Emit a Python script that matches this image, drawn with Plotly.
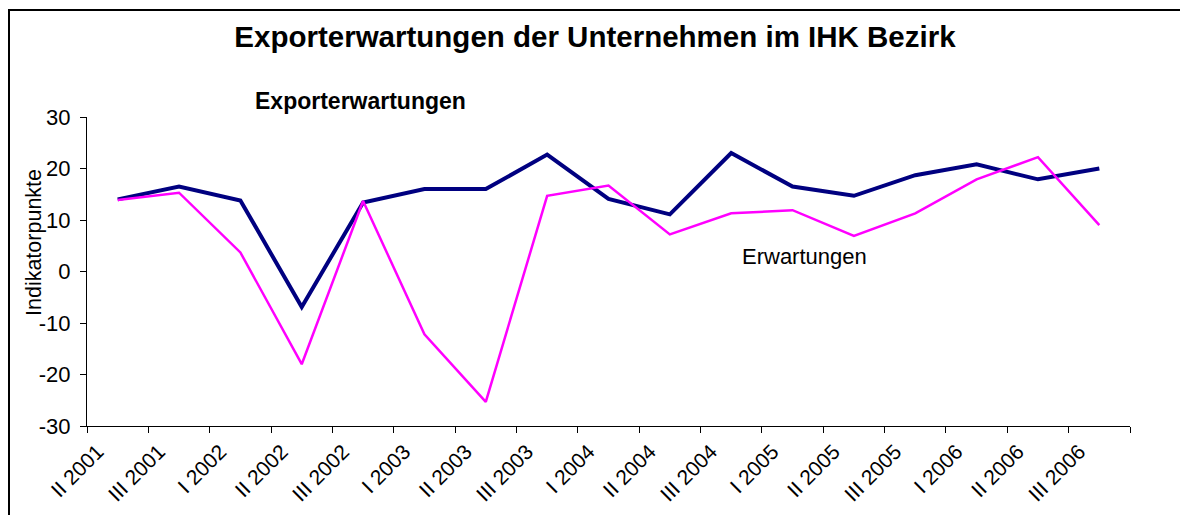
import plotly.graph_objects as go

categories = ["II 2001", "III 2001", "I 2002", "II 2002", "III 2002", "I 2003", "II 2003",
              "III 2003", "I 2004", "II 2004", "III 2004", "I 2005", "II 2005", "III 2005",
              "I 2006", "II 2006", "III 2006"]
export_expect = [14.0, 16.5, 13.8, -6.9, 13.4, 16.0, 16.0, 22.7, 14.1, 11.1, 23.0, 16.5,
                 14.7, 18.7, 20.8, 17.9, 20.0]
expectations = [13.9, 15.3, 3.7, -18.0, 13.7, -12.2, -25.3, 14.7, 16.7, 7.2, 11.3, 11.9,
                6.9, 11.3, 17.9, 22.2, 9.0]
y_ticks = [-30, -20, -10, 0, 10, 20, 30]
y_tick_labels = ["-30", "-20", "-10", "0", "10", "20", "30"]

FONT = "Liberation Sans, Arial, sans-serif"
L, R, T, B = 87, 50, 117, 89
W, H = 1180, 515
PW, PH = W - L - R, H - T - B

fig = go.Figure()
fig.add_trace(go.Scatter(x=categories, y=export_expect, mode="lines",
                         line=dict(color="#000080", width=4), name="Exporterwartungen"))
fig.add_trace(go.Scatter(x=categories, y=expectations, mode="lines",
                         line=dict(color="#FF00FF", width=2.5), name="Erwartungen"))

fig.update_layout(
    width=W, height=H,
    margin=dict(l=L, r=R, t=T, b=B, autoexpand=False),
    paper_bgcolor="white", plot_bgcolor="white",
    showlegend=False,
    font=dict(family=FONT, color="black", size=21),
    title=dict(text="<b>Exporterwartungen der Unternehmen im IHK Bezirk</b>",
               x=595 / W, xref="container", xanchor="center", y=1 - 37 / H, yanchor="middle",
               font=dict(size=29.5, family=FONT, color="black")),
)
fig.update_xaxes(
    type="category", range=[-0.5, len(categories) - 0.5],
    showline=True, linecolor="black", linewidth=1,
    ticks="outside", ticklen=6, tickcolor="black", tickson="boundaries",
    tickangle=-45, showgrid=False, zeroline=False, automargin=False,
    tickfont=dict(size=21, family=FONT), ticklabelshift=-20, ticklabelstandoff=4,
)
fig.update_yaxes(
    range=[-30, 30], tickvals=y_ticks, ticktext=y_tick_labels,
    showline=True, linecolor="black", linewidth=1, automargin=False,
    ticks="outside", ticklen=6, tickcolor="black", showgrid=False, zeroline=False,
    tickfont=dict(size=22, family=FONT), ticklabelstandoff=5,
)

# y-axis title placed as in the original (off-centre)
fig.add_annotation(text="Indikatorpunkte", xref="paper", yref="paper", textangle=-90,
                   x=(34 - L) / PW, y=(H - B - 243) / PH, xanchor="center", yanchor="middle",
                   showarrow=False, font=dict(size=21.5, family=FONT, color="black"))
fig.add_annotation(text="<b>Exporterwartungen</b>", xref="paper", yref="paper",
                   x=(253 - L) / PW, y=(H - B - 101) / PH, xanchor="left", yanchor="middle",
                   showarrow=False, font=dict(size=23, family=FONT, color="black"))
fig.add_annotation(text="Erwartungen", xref="paper", yref="paper",
                   x=(740 - L) / PW, y=(H - B - 256) / PH, xanchor="left", yanchor="middle",
                   showarrow=False, font=dict(size=22, family=FONT, color="black"))

# outer chart frame (left and top edges visible)
fig.add_shape(type="rect", xref="paper", yref="paper",
              x0=(9 - L) / PW, x1=1.2, y0=-0.5, y1=(H - B - 10) / PH,
              line=dict(color="black", width=2), layer="above")

fig.write_html("out.html", config={"displayModeBar": False},
               post_script="document.body.style.margin='0';")
